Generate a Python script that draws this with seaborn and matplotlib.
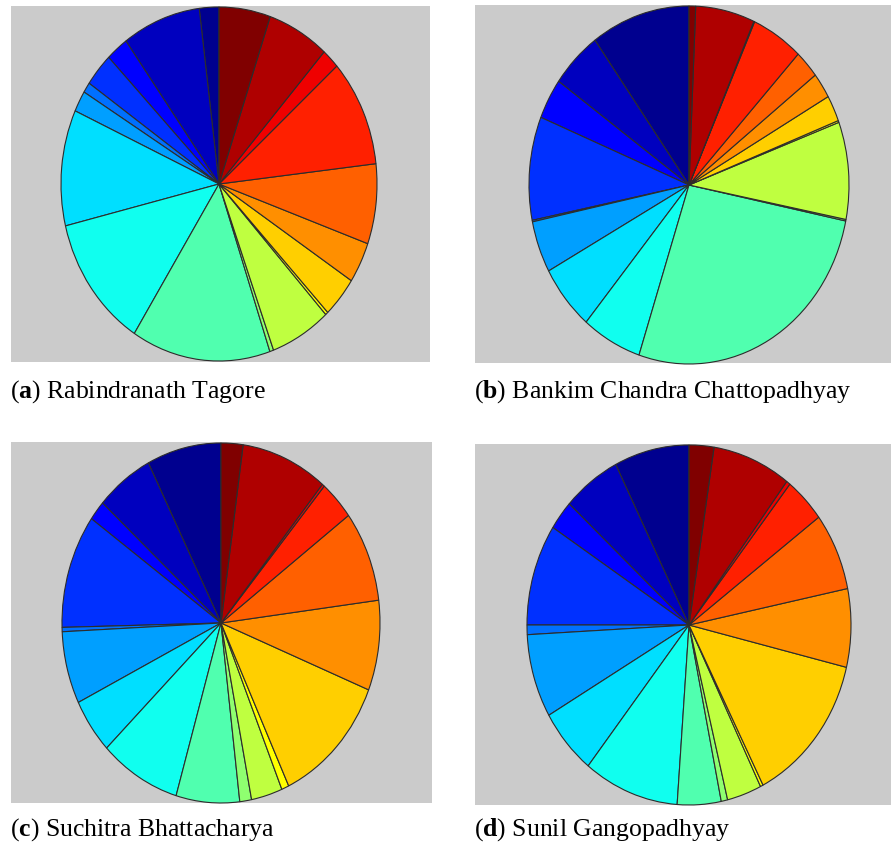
import numpy as np
import matplotlib
matplotlib.use("Agg")
import matplotlib.pyplot as plt
import seaborn as sns

# Relative share of each of the 19 feature bins per author (slices run
# counter-clockwise from 12 o'clock, bin 1 first)
tagore = [7.2, 28.9, 8.2, 11.0, 3.4, 6.9, 38.1, 43.9, 51.2, 1.4,
          22.3, 1.0, 13.4, 13.4, 26.3, 35.2, 6.5, 22.8, 18.9]
bankim = [36.0, 18.6, 13.2, 33.6, 0.5, 16.8, 21.3, 21.8, 96.6, 0.5,
          31.6, 0.6, 8.5, 8.3, 9.1, 18.8, 0.3, 21.5, 2.4]
suchitra = [27.2, 21.0, 6.4, 36.8, 1.4, 23.4, 17.8, 29.6, 23.2, 4.3,
            11.4, 2.7, 43.0, 29.1, 29.4, 12.8, 0.9, 31.6, 8.0]
sunil = [26.9, 20.8, 9.5, 32.8, 3.1, 27.0, 21.4, 34.3, 15.7, 2.3,
         12.4, 1.0, 49.2, 25.3, 25.1, 14.7, 1.4, 28.2, 8.9]

panel_letters = ["a", "b", "c", "d"]
author_names = ["Rabindranath Tagore", "Bankim Chandra Chattopadhyay",
                "Suchitra Bhattacharya", "Sunil Gangopadhyay"]


def matlab_jet(m=64):
    """Classic 64-entry jet table (blue -> cyan -> yellow -> red)."""
    n = int(np.ceil(m / 4))
    u = np.concatenate([np.arange(1, n + 1) / n, np.ones(n - 1),
                        np.arange(n, 0, -1) / n])
    g = int(np.ceil(n / 2)) - (1 if m % 4 == 1 else 0) + np.arange(1, len(u) + 1)
    r = g + n
    b = g - n
    table = np.zeros((m, 3))
    table[r[r <= m] - 1, 0] = u[r <= m]
    table[g[g <= m] - 1, 1] = u[g <= m]
    table[b[b >= 1] - 1, 2] = u[b >= 1]
    return table


def slice_palette(count, m=64):
    table = matlab_jet(m)
    idx = np.minimum((np.arange(count) / (count - 1) * m).astype(int), m - 1)
    return sns.color_palette([tuple(c) for c in table[idx]])


sns.set_style("white")
plt.rcParams["font.family"] = ["Liberation Serif", "DejaVu Serif"]
plt.rcParams["mathtext.fontset"] = "custom"
plt.rcParams["mathtext.rm"] = "Liberation Serif"
plt.rcParams["mathtext.bf"] = "Liberation Serif:bold"

W, H = 891, 848
fig = plt.figure(figsize=(W / 100, H / 100), dpi=100)
fig.patch.set_facecolor("white")

# (left, top, right, bottom) of each grey panel and pie centre / radii, in px
panels = [
    ((11, 6, 430, 362), (219, 184), (158, 177)),
    ((475, 5, 891, 363), (689, 185), (160, 179)),
    ((11, 442, 432, 803), (221, 623), (159, 180)),
    ((475, 444, 891, 805), (689, 625), (162, 180)),
]
caption_pos = [(10, 392), (474, 392), (10, 830), (474, 830)]

series = [tagore, bankim, suchitra, sunil]
colors = slice_palette(len(tagore))

for values, (rect, centre, radii), letter, name, (tx, ty) in zip(
        series, panels, panel_letters, author_names, caption_pos):
    l, t, r, b = rect
    ax = fig.add_axes([l / W, 1 - b / H, (r - l) / W, (b - t) / H])
    ax.pie(values, colors=colors, startangle=90, counterclock=True,
           radius=1.0, frame=True,
           wedgeprops=dict(edgecolor="#2c2c2c", linewidth=0.8))
    ax.set_aspect("auto")
    cx, cy = centre
    rx, ry = radii
    ax.set_xlim(-(cx - l) / rx, (r - cx) / rx)
    ax.set_ylim(-(b - cy) / ry, (cy - t) / ry)
    ax.set_facecolor("#cbcbcb")
    ax.set_xticks([])
    ax.set_yticks([])
    for s in ax.spines.values():
        s.set_visible(False)

    fig.text(tx / W, 1 - ty / H, f"($\\mathbf{{{letter}}}$) {name}",
             fontsize=18.5, color="black", ha="left", va="center")

fig.savefig("out.png", dpi=100, facecolor="white")
